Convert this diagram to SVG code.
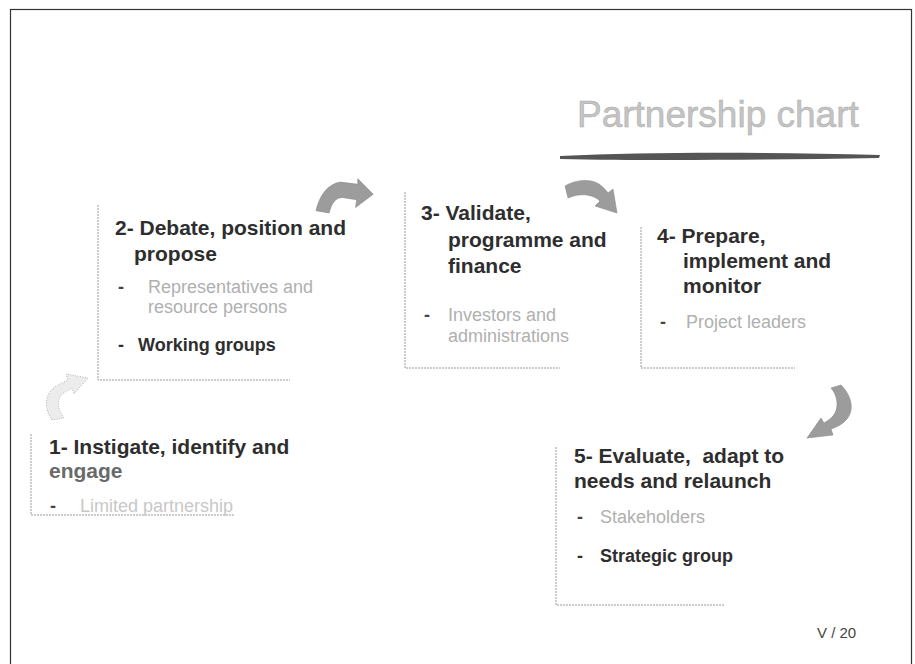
<svg xmlns="http://www.w3.org/2000/svg" width="915" height="664" viewBox="0 0 915 664">
<style>
.h{font-family:"Liberation Sans",Arial,sans-serif;font-size:21px;font-weight:bold;fill:#2e2e2e}
.g{font-family:"Liberation Sans",Arial,sans-serif;font-size:18px;fill:#b0b0b0}
.b{font-family:"Liberation Sans",Arial,sans-serif;font-size:18px;font-weight:bold;fill:#2e2e2e}
.d{font-family:"Liberation Sans",Arial,sans-serif;font-size:18px;font-weight:bold;fill:#444}
.frame{fill:none;stroke:#9a9a9a;stroke-width:1;stroke-dasharray:2 1}
.arr{fill:#9c9c9c;stroke:#8a8a8a;stroke-width:0.6}
</style>
<rect x="10.5" y="9.5" width="901" height="670" fill="#fff" stroke="#333" stroke-width="1.2"/>
<g id="title">
<text x="577" y="127" font-family="'Liberation Sans',Arial,sans-serif" font-size="37" fill="#c4c4c4" stroke="#aaa" stroke-width="0.5">Partnership chart</text>
<path d="M560,156 C650,152 760,152 880,155 L879,158 C760,160 650,161 560,159 Z" fill="#555"/>
</g>
<g id="connectors">
<path class="arr" transform="translate(42,374)" d="M10,46 C2,34 2,20 14,12 L26,6 L24,0 L46,4 L32,20 L30,14 L20,20 C14,26 16,36 22,44 Z" stroke="#c8c8c8" stroke-dasharray="1 1.5" style="fill:#ececec"/>
<path class="arr" transform="translate(316,181) scale(1.1)" d="M0,27 C3,14 10,3 22,1 L38,3 L38,-2 L52,12 L36,24 L37,17 L24,15 C18,15 14,20 12,29 Z"/>
<path class="arr" transform="translate(565,178)" d="M0,8 C10,2 24,0 34,6 C38,9 41,12 43,15 L48,11 L52,35 L30,28 L35,23 C32,20 28,18 22,17 C14,16 8,18 3,20 Z"/>
<path class="arr" transform="translate(805,385)" d="M36,0 C46,10 50,24 42,34 C38,39 32,42 26,44 L28,50 L2,53 L16,33 L19,38 C24,35 28,32 30,28 C34,20 32,10 26,3 Z"/>
</g>
<g id="node1">
<path class="frame" d="M31,434 V515 H235"/>
<text class="h" x="49" y="454">1- Instigate, identify and</text>
<text class="h" x="49" y="478" style="fill:#6a6a6a">engage</text>
<text class="d" x="50" y="512">-</text>
<text class="g" x="80" y="512" style="fill:#c8c8c8">Limited partnership</text>
</g>
<g id="node2">
<path class="frame" d="M98,205 V380 H290"/>
<text class="h" x="115" y="235">2- Debate, position and</text>
<text class="h" x="134" y="261">propose</text>
<text class="d" x="118" y="293">-</text>
<text class="g" x="148" y="293">Representatives and</text>
<text class="g" x="148" y="313">resource persons</text>
<text class="b" x="118" y="351">-</text>
<text class="b" x="138" y="351">Working groups</text>
</g>
<g id="node3">
<path class="frame" d="M405,192 V368 H560"/>
<text class="h" x="421" y="220">3- Validate,</text>
<text class="h" x="448" y="247">programme and</text>
<text class="h" x="448" y="273">finance</text>
<text class="d" x="424" y="321">-</text>
<text class="g" x="448" y="321">Investors and</text>
<text class="g" x="448" y="342">administrations</text>
</g>
<g id="node4">
<path class="frame" d="M641,227 V368 H795"/>
<text class="h" x="657" y="243">4- Prepare,</text>
<text class="h" x="683" y="268">implement and</text>
<text class="h" x="683" y="293">monitor</text>
<text class="d" x="660" y="328">-</text>
<text class="g" x="686" y="328">Project leaders</text>
</g>
<g id="node5">
<path class="frame" d="M556,447 V605 H725"/>
<text class="h" x="574" y="463" xml:space="preserve">5- Evaluate,  adapt to</text>
<text class="h" x="574" y="488">needs and relaunch</text>
<text class="d" x="577" y="523">-</text>
<text class="g" x="600" y="523">Stakeholders</text>
<text class="b" x="577" y="562">-</text>
<text class="b" x="600" y="562">Strategic group</text>
</g>
<text x="817" y="638" font-family="'Liberation Sans',Arial,sans-serif" font-size="15" fill="#444">V / 20</text>
</svg>
